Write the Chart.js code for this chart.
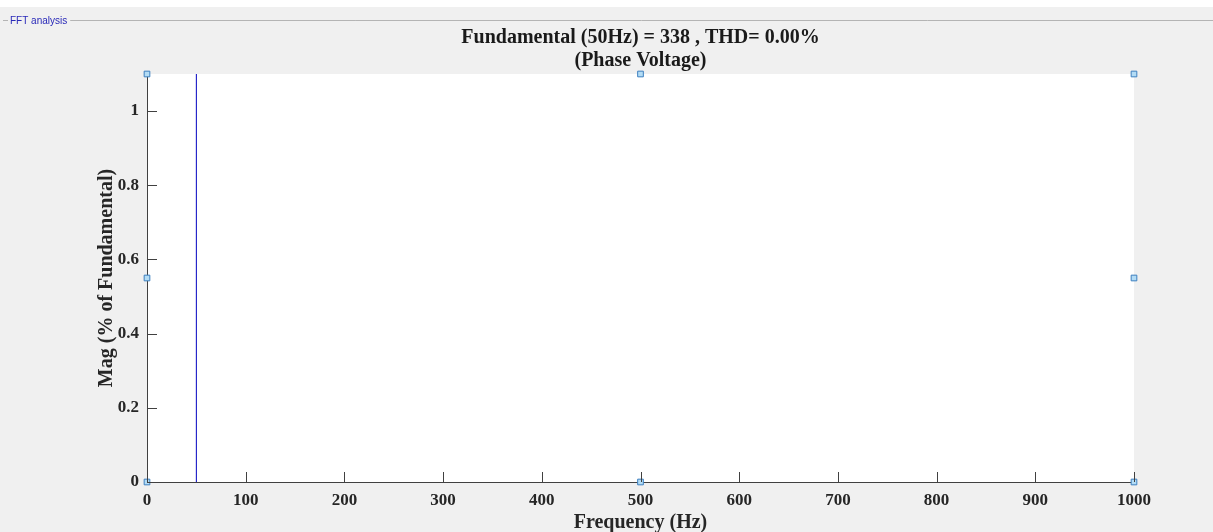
<!DOCTYPE html>
<html><head><meta charset="utf-8">
<script src="https://cdn.jsdelivr.net/npm/chart.js@4/dist/chart.umd.min.js"></script>
<style>html,body{margin:0;padding:0;background:#f0f0f0;}#wrap{width:1213px;height:532px;}</style>
</head><body><div id="wrap"><canvas id="c" width="1213" height="532"></canvas></div>
<script>
const titleLines = ["Fundamental (50Hz) = 338 , THD= 0.00%", "(Phase Voltage)"];
const panelLabel = "FFT analysis";
const xAxisTitle = "Frequency (Hz)";
const yAxisTitle = "Mag (% of Fundamental)";
const xTicks = [0, 100, 200, 300, 400, 500, 600, 700, 800, 900, 1000];
const yTicks = [0, 0.2, 0.4, 0.6, 0.8, 1];
const xRange = [0, 1000];
const yRange = [0, 1.1];
// spectrum: only the fundamental (100 % of fundamental, clipped by axis)
const harmonicFreq = [50];
const harmonicMag = [100];
// selection handles of the axes box
const handleX = [0, 500, 1000, 0, 1000, 0, 500, 1000];
const handleY = [0, 0, 0, 0.55, 0.55, 1.1, 1.1, 1.1];

const serif = "'Liberation Serif','Times New Roman',serif";
const stemData = [];
harmonicFreq.forEach((f, i) => { stemData.push({x: f, y: 0}); stemData.push({x: f, y: harmonicMag[i]}); stemData.push({x: NaN, y: NaN}); });
const handleData = handleX.map((x, i) => ({x, y: handleY[i]}));

const bgPlugin = {
  id: 'bg',
  beforeDraw(chart) {
    const ctx = chart.ctx, a = chart.chartArea;
    ctx.save();
    ctx.fillStyle = '#ffffff'; ctx.fillRect(0, 0, chart.width, 7);
    ctx.fillStyle = '#f0f0f0'; ctx.fillRect(0, 7, chart.width, chart.height - 7);
    ctx.font = "10px 'Liberation Sans',Arial,sans-serif";
    const tw = ctx.measureText(panelLabel).width;
    ctx.strokeStyle = '#b4b4b4'; ctx.lineWidth = 1;
    ctx.beginPath(); ctx.moveTo(3, 20.5); ctx.lineTo(8, 20.5);
    ctx.moveTo(10 + tw + 3, 20.5); ctx.lineTo(chart.width, 20.5); ctx.stroke();
    ctx.fillStyle = '#2828b8'; ctx.textBaseline = 'middle'; ctx.textAlign = 'left';
    ctx.fillText(panelLabel, 10, 21);
    // plot title, centred over the axes box
    ctx.fillStyle = '#1a1a1a'; ctx.textAlign = 'center';
    ctx.font = "bold 20px " + serif;
    const cx = (a.left + a.right) / 2;
    titleLines.forEach((t, i) => ctx.fillText(t, cx, 38 + i * 23));
    ctx.fillStyle = '#ffffff';
    ctx.fillRect(a.left, a.top, a.right - a.left, a.bottom - a.top);
    ctx.restore();
  },
  afterDatasetsDraw(chart) {
    const ctx = chart.ctx, xs = chart.scales.x, ys = chart.scales.y, a = chart.chartArea;
    ctx.save();
    ctx.strokeStyle = '#404040'; ctx.lineWidth = 1;
    ctx.beginPath();
    xTicks.forEach(v => { const p = Math.round(xs.getPixelForValue(v)) + 0.5; ctx.moveTo(p, a.bottom); ctx.lineTo(p, a.bottom - 10); });
    yTicks.forEach(v => { const p = Math.round(ys.getPixelForValue(v)) + 0.5; ctx.moveTo(a.left, p); ctx.lineTo(a.left + 10, p); });
    ctx.stroke();
    ctx.restore();
  }
};

new Chart(document.getElementById('c'), {
  type: 'scatter',
  data: {
    datasets: [
      { type: 'line', data: stemData, borderColor: '#0000c0', borderWidth: 1, pointRadius: 0, showLine: true, spanGaps: false, order: 2 },
      { type: 'scatter', data: handleData, pointStyle: 'rect', pointRadius: 4, backgroundColor: '#b3dcf5', borderColor: '#3d7fbf', borderWidth: 1, clip: false, order: 1 }
    ]
  },
  options: {
    responsive: false, animation: false, devicePixelRatio: 1,
    layout: { padding: { left: 67, right: 79, top: 74, bottom: 0 } },
    plugins: {
      legend: { display: false }, tooltip: { enabled: false }, title: { display: false }
    },
    scales: {
      x: {
        type: 'linear', min: xRange[0], max: xRange[1],
        afterFit(s) { s.height = 50; },
        afterBuildTicks(s) { s.ticks = xTicks.map(v => ({ value: v })); },
        grid: { display: false, drawTicks: false },
        border: { display: true, color: '#404040', width: 1 },
        ticks: { color: '#262626', font: { family: serif, size: 17, weight: 'bold' }, padding: 8, maxRotation: 0, autoSkip: false, callback: v => String(v) },
        title: { display: true, text: xAxisTitle, color: '#262626', font: { family: serif, size: 20, weight: 'bold', lineHeight: 1.2 }, padding: { top: 0, bottom: -3 } }
      },
      y: {
        type: 'linear', min: yRange[0], max: yRange[1],
        afterFit(s) { s.width = 80; },
        afterBuildTicks(s) { s.ticks = yTicks.map(v => ({ value: v })); },
        grid: { display: false, drawTicks: false },
        border: { display: true, color: '#404040', width: 1 },
        ticks: { color: '#262626', font: { family: serif, size: 17, weight: 'bold' }, padding: 8, autoSkip: false, callback: v => String(Math.round(v * 10) / 10) },
        title: { display: true, text: yAxisTitle, color: '#262626', font: { family: serif, size: 20, weight: 'bold', lineHeight: 1.2 }, padding: { top: 28, bottom: 0 } }
      }
    }
  },
  plugins: [bgPlugin]
});
</script></body></html>
